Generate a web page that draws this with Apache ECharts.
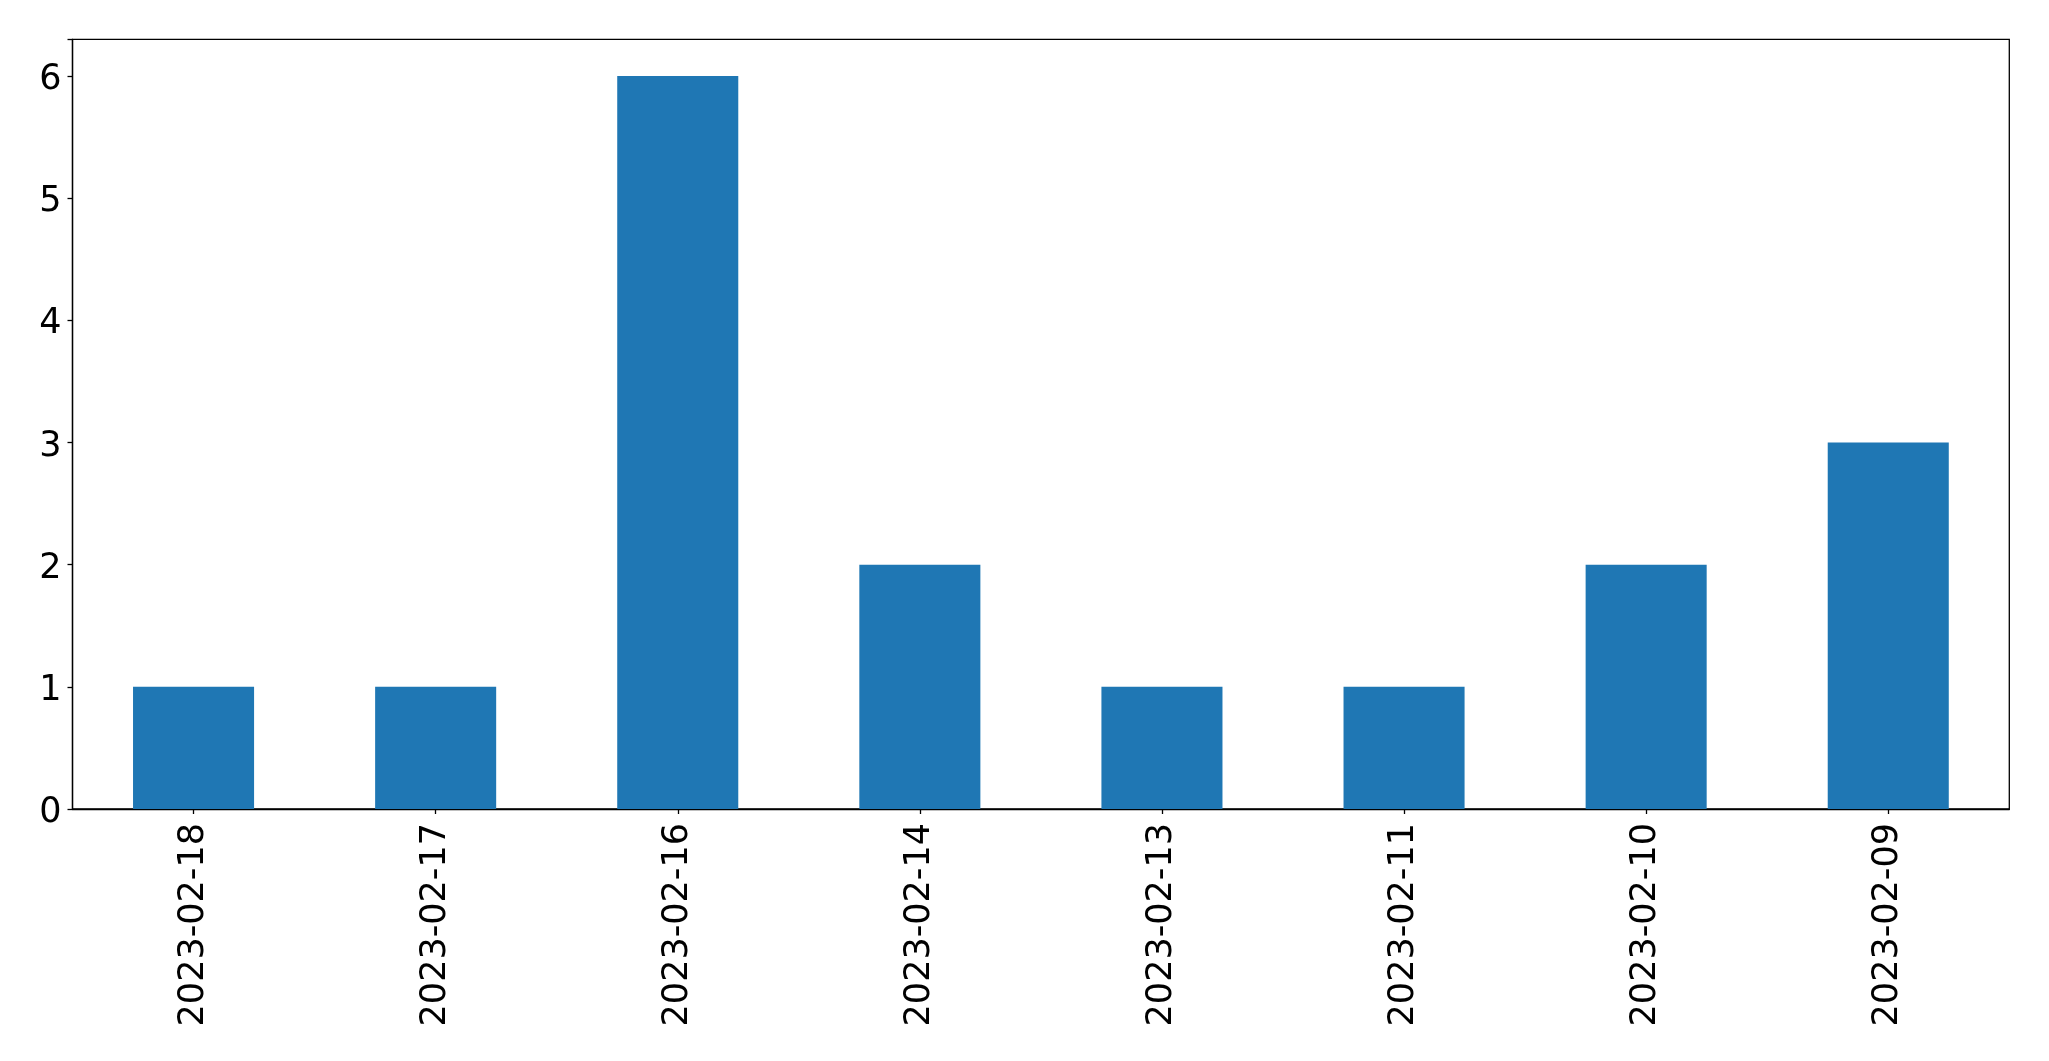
<!DOCTYPE html>
<html>
<head>
<meta charset="utf-8">
<script src="https://cdn.jsdelivr.net/npm/echarts@6/dist/echarts.min.js"></script>
<style>
html,body{margin:0;padding:0;background:#fff;}
#chart{width:2049px;height:1061px;}
</style>
</head>
<body>
<div id="chart"></div>
<script>
const categories = ["2023-02-18","2023-02-17","2023-02-16","2023-02-14","2023-02-13","2023-02-11","2023-02-10","2023-02-09"];
const values = [1,1,6,2,1,1,2,3];
const yTicks = [0,1,2,3,4,5,6];

const chart = echarts.init(document.getElementById('chart'), null, {renderer:'canvas'});
const font = '"DejaVu Sans", sans-serif';
chart.setOption({
  animation: false,
  backgroundColor: '#fff',
  grid: {
    left: 72.5, right: 39.7, top: 39.3, bottom: 252,
    show: true, borderColor: '#000', borderWidth: 1.3, backgroundColor: 'transparent'
  },
  xAxis: {
    type: 'category',
    data: categories,
    boundaryGap: true,
    axisLine: {show: true, lineStyle: {color: '#000', width: 1.3}},
    axisTick: {show: true, alignWithLabel: true, length: 5, lineStyle: {color: '#000', width: 1.3}},
    axisLabel: {rotate: 90, color: '#000', fontSize: 35, fontFamily: font, margin: 14},
    splitLine: {show: false}
  },
  yAxis: {
    type: 'value',
    min: 0, max: 6.3, interval: 1,
    axisLine: {show: true, lineStyle: {color: '#000', width: 1.3}},
    axisTick: {show: true, length: 5, lineStyle: {color: '#000', width: 1.3}},
    axisLabel: {
      color: '#000', fontSize: 35, fontFamily: font, margin: 11,
      formatter: function(v){ return yTicks.indexOf(v) >= 0 ? '{a|' + v + '}' : ''; },
      rich: {a: {color: '#000', fontSize: 35, fontFamily: font, padding: [8, 0, 0, 0]}}
    },
    splitLine: {show: false}
  },
  series: [{
    type: 'bar',
    data: values,
    barWidth: '50%',
    itemStyle: {color: '#1f77b4'}
  }]
});
</script>
</body>
</html>
